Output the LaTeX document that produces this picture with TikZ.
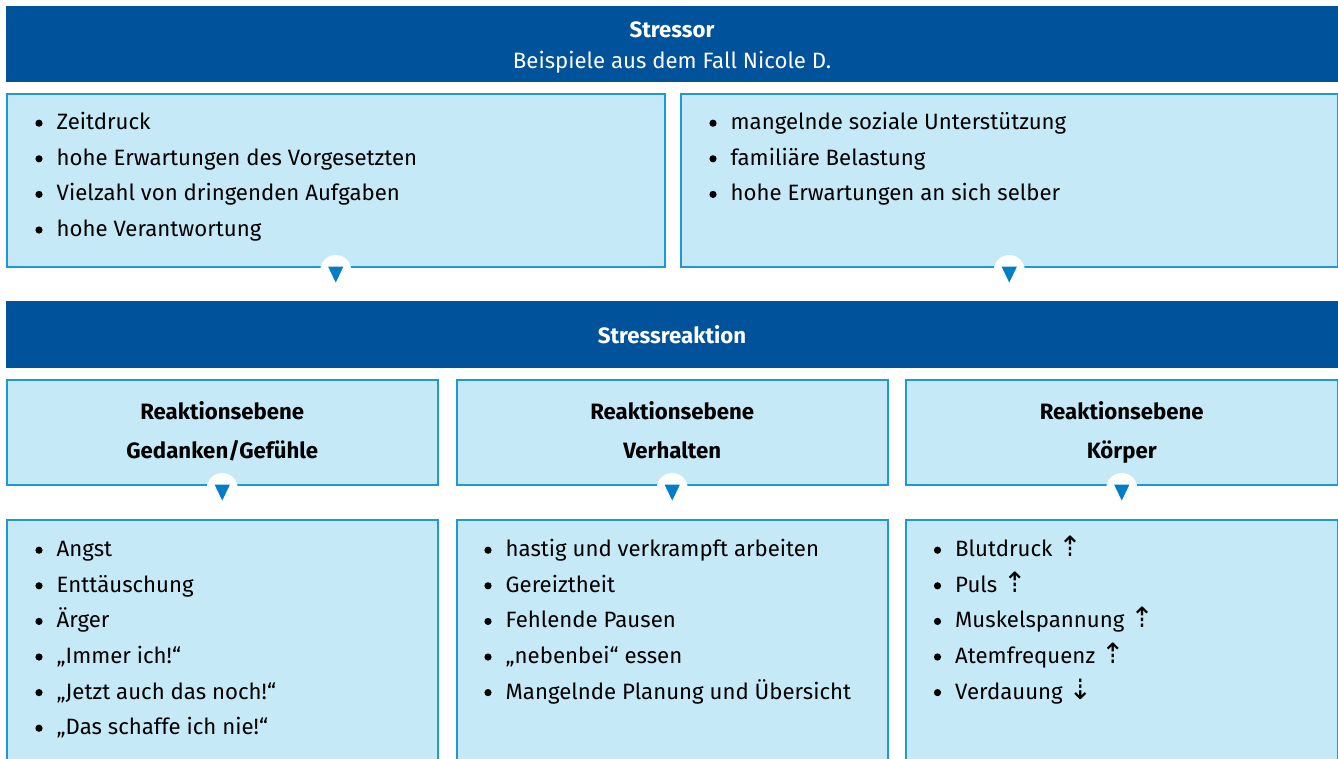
\documentclass[tikz,border=0pt]{standalone}
\usepackage{fontspec}
\setmainfont{Fira Sans}
\newfontfamily\symfont{DejaVu Sans}
\definecolor{hdrblue}{RGB}{0,82,155}
\definecolor{boxfill}{RGB}{198,233,248}
\definecolor{boxline}{RGB}{32,152,214}
\definecolor{triblue}{RGB}{0,125,200}
\tikzset{
  hdr/.style={fill=hdrblue, draw=none, anchor=north west, inner sep=0},
  lbox/.style={fill=boxfill, draw=boxline, line width=1.5pt, anchor=north west, inner sep=0},
  txt/.style={font=\fontsize{22.2}{35.5}\selectfont, inner sep=0, anchor=base west, text=black},
  htxt/.style={font=\fontsize{22.2}{35.5}\selectfont, inner sep=0, anchor=base, text=white},
  ctxt/.style={font=\fontsize{22.2}{35.5}\selectfont\bfseries, inner sep=0, anchor=base, text=black},
  marker/.pic={
    \fill[white] (0,3) circle (15.5);
    \fill[triblue] (-7.7,-1) -- (7.7,-1) -- (0,15) -- cycle;
  }
}
\newcommand{\bulletat}[1]{\fill[black] ([shift={(-17.5,-6.5)}]#1.base west) circle (3.6);}
\begin{document}
\begin{tikzpicture}[x=1pt,y=-1pt]
\useasboundingbox (0,0) rectangle (1338,758);
\clip (0,0) rectangle (1338,758);
% Stressor header
\node[hdr, minimum width=1332, minimum height=76] (stressor) at (6,6) {};
\node[htxt, font=\fontsize{22.2}{35.5}\selectfont\bfseries] (stressorT) at (672,37.5) {Stressor};
\node[htxt] (stressorS) at (672,68) {Beispiele aus dem Fall Nicole D.};
% Row 1
\node[lbox, minimum width=658, minimum height=173] (s1) at (6,93) {};
\node[lbox, minimum width=657, minimum height=173] (s2) at (680,93) {};
\foreach \t [count=\i from 0] in {Zeitdruck, hohe Erwartungen des Vorgesetzten, Vielzahl von dringenden Aufgaben, hohe Verantwortung}
  {\node[txt] (s1-\i) at (56.5,129.7+35.6*\i) {\t}; \bulletat{s1-\i}}
\foreach \t [count=\i from 0] in {mangelnde soziale Unterstützung, familiäre Belastung, hohe Erwartungen an sich selber}
  {\node[txt] (s2-\i) at (730.5,129.7+35.6*\i) {\t}; \bulletat{s2-\i}}
\pic at (s1.south) {marker};
\pic at (s2.south) {marker};
% Stressreaktion header
\node[hdr, minimum width=1332, minimum height=67] (reakt) at (6,301) {};
\node[htxt, font=\fontsize{22.2}{35.5}\selectfont\bfseries] (reaktT) at (672,343.5) {Stressreaktion};
% Row 2
\node[lbox, minimum width=431, minimum height=105] (e1) at (6,379) {};
\node[lbox, minimum width=431, minimum height=105] (e2) at (456,379) {};
\node[lbox, minimum width=432, minimum height=105] (e3) at (905,379) {};
\node[ctxt] (e1a) at (e1.north |- 0,419.5) {Reaktionsebene};
\node[ctxt] (e1b) at (e1.north |- 0,458.5) {Gedanken/Gefühle};
\node[ctxt] (e2a) at (e2.north |- 0,419.5) {Reaktionsebene};
\node[ctxt] (e2b) at (e2.north |- 0,458.5) {Verhalten};
\node[ctxt] (e3a) at (e3.north |- 0,419.5) {Reaktionsebene};
\node[ctxt] (e3b) at (e3.north |- 0,458.5) {Körper};
\pic at (e1.south) {marker};
\pic at (e2.south) {marker};
\pic at (e3.south) {marker};
% Row 3
\node[lbox, minimum width=431, minimum height=260] (r1) at (6,519) {};
\node[lbox, minimum width=431, minimum height=260] (r2) at (456,519) {};
\node[lbox, minimum width=432, minimum height=260] (r3) at (905,519) {};
\foreach \t [count=\i from 0] in {Angst, Enttäuschung, Ärger, „Immer ich!“, „Jetzt auch das noch!“, „Das schaffe ich nie!“}
  {\node[txt] (r1-\i) at (56.5,556.7+35.6*\i) {\t}; \bulletat{r1-\i}}
\foreach \t [count=\i from 0] in {hastig und verkrampft arbeiten, Gereiztheit, Fehlende Pausen, „nebenbei“ essen, Mangelnde Planung und Übersicht}
  {\node[txt] (r2-\i) at (505.5,556.7+35.6*\i) {\t}; \bulletat{r2-\i}}
\foreach \t/\a [count=\i from 0] in {Blutdruck/⇡, Puls/⇡, Muskelspannung/⇡, Atemfrequenz/⇡, Verdauung/⇣}
  {\node[txt] (r3-\i) at (955,556.7+35.6*\i) {\t\ {\symfont\fontsize{28}{30}\selectfont\a}}; \bulletat{r3-\i}}
\end{tikzpicture}
\end{document}
